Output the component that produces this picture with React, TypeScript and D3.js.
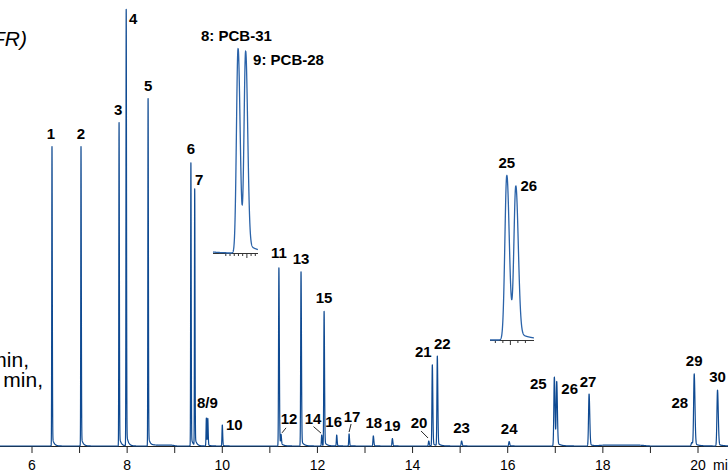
import React from "react";
import * as d3 from "d3";

// peak table (time in min, height in % of peak 4, sigma in min)
const peakIds = ["1", "2", "3", "4", "5", "6", "7", "8", "9", "10", "11", "12", "13", "14", "15", "16", "17", "18", "19", "20", "21", "22", "23", "24", "25", "26", "27", "28", "29", "30"];
const peakTimes = [6.42, 7.03, 7.83, 7.98, 8.44, 9.34, 9.42, 9.665, 9.695, 10.0, 11.19, 11.235, 11.655, 12.09, 12.14, 12.405, 12.665, 13.175, 13.575, 14.34, 14.415, 14.52, 15.03, 16.03, 16.98, 17.03, 17.71, 19.87, 19.92, 20.41];
const peakHeights = [68.6, 68.6, 74.1, 100, 79.6, 64.9, 58.7, 6.4, 6.2, 4.8, 40.8, 2.1, 39.9, 2.5, 30.8, 2.5, 2.75, 2.3, 1.7, 1.15, 18.6, 20.5, 1.15, 1.0, 15.8, 14.5, 11.9, 0.8, 16.5, 12.8];
const peakSigmas = [0.005, 0.005, 0.005, 0.005, 0.005, 0.005, 0.005, 0.0062, 0.0062, 0.0065, 0.007, 0.007, 0.007, 0.007, 0.007, 0.007, 0.007, 0.008, 0.008, 0.008, 0.008, 0.008, 0.009, 0.009, 0.0105, 0.0105, 0.011, 0.012, 0.012, 0.012];

// slow baseline drift
const driftTimes = [8.75, 18.4];
const driftHeights = [0.2, 0.2];
const driftWidths = [0.25, 0.5];

// axis
const tickMinutes = [6, 7, 8, 9, 10, 11, 12, 13, 14, 15, 16, 17, 18, 19, 20];
const tickLabels = ["6", "", "8", "", "10", "", "12", "", "14", "", "16", "", "18", "", "20"];

const FONT = "'Liberation Sans', Arial, Helvetica, sans-serif";
const BLUE = "#0f4a92";
const INSET_BLUE = "#2b63a9";

function signal(t: number) {
  var v = 0;
  for (var i = 0; i < peakTimes.length; i++) {
    var d = t - peakTimes[i];
    var s = peakSigmas[i];
    if (Math.abs(d) > 40 * s) continue;
    var sd = d < 0 ? s : s * 1.3;
    v += peakHeights[i] * Math.exp((-d * d) / (2 * sd * sd));
    if (d > 0) v += peakHeights[i] * 0.035 * (1 - Math.exp(-d / s)) * Math.exp(-d / (7 * s));
  }
  for (var j = 0; j < driftTimes.length; j++) {
    var e = (t - driftTimes[j]) / driftWidths[j];
    v += driftHeights[j] * Math.exp(-Math.pow(e, 8));
  }
  return v;
}

class Chromatogram extends React.Component {
  ref: any;
  constructor(props: any) {
    super(props);
    this.ref = React.createRef();
    this.createChart = this.createChart.bind(this);
  }

  componentDidMount() {
    this.createChart();
  }

  createChart() {
    var width = 728,
      height = 472;

    var svg = d3.select(this.ref.current);
    svg.selectAll("*").remove();
    svg.attr("width", width).attr("height", height);

    var x = d3.scaleLinear().domain([6, 20]).range([32, 698]);
    var y = d3.scaleLinear().domain([0, 100]).range([446, 10]);

    // main trace
    var ts = d3.range(x.invert(-2), x.invert(width + 2), 0.001);
    peakTimes.forEach(function (t) {
      ts.push(t);
    });
    ts.sort(function (a, b) {
      return a - b;
    });
    var pts: [number, number][] = ts.map(function (t) {
      return [t, signal(t)];
    });

    // axis
    var axis = svg.append("g");
    axis
      .append("line")
      .attr("x1", 0)
      .attr("x2", width)
      .attr("y1", y(0) + 0.5)
      .attr("y2", y(0) + 0.5)
      .attr("stroke", "#222")
      .attr("stroke-width", 1.2);
    axis
      .selectAll("line.tick")
      .data(tickMinutes)
      .enter()
      .append("line")
      .attr("class", "tick")
      .attr("x1", function (d) {
        return x(d);
      })
      .attr("x2", function (d) {
        return x(d);
      })
      .attr("y1", y(0))
      .attr("y2", y(0) + 7)
      .attr("stroke", "#222")
      .attr("stroke-width", 1);
    axis
      .selectAll("text")
      .data(tickMinutes)
      .enter()
      .append("text")
      .attr("x", function (d) {
        return x(d);
      })
      .attr("y", 470)
      .attr("text-anchor", "middle")
      .style("font-family", FONT)
      .style("font-size", "14px")
      .text(function (d, i) {
        return tickLabels[i];
      });
    axis
      .append("text")
      .attr("x", 713)
      .attr("y", 470)
      .style("font-family", FONT)
      .style("font-size", "14px")
      .text("min");

    var line = d3
      .line<[number, number]>()
      .x(function (d) {
        return x(d[0]);
      })
      .y(function (d) {
        return y(d[1]);
      });

    svg
      .append("path")
      .attr("d", line(pts))
      .attr("fill", "none")
      .attr("stroke", BLUE)
      .attr("stroke-width", 1.2)
      .attr("stroke-linejoin", "round");

    // peak labels: offset from apex, optional leader line
    var labelLayout: any = {
      "1": [-1, -8], "2": [0, -8], "3": [-1, -8], "4": [7, 14], "5": [0, -8],
      "6": [0, -9], "7": [4.5, -5], "8": [1, -10, "8/9"], "10": [12, 5],
      "11": [0, -10], "12": [8, -13, null, [1, -4, 5, -9]], "13": [0, -8],
      "14": [-8.7, -11, null, [-0.7, -2, -8.2, -8.5]], "15": [0, -9], "16": [-3, -8],
      "17": [3, -12, null, [0, -2, 2, -10]], "18": [0.5, -8], "19": [0, -8],
      "20": [-9.7, -13, null, [-0.7, -3, -7.7, -10]], "21": [-9, -8], "22": [5, -8],
      "23": [0, -8], "24": [0, -8], "25": [-16, 12], "26": [13, 11], "27": [-1, -7],
      "28": [-12, -35], "29": [0, -8], "30": [0, -8],
    };

    var labels = svg.append("g");
    peakIds.forEach(function (id, i) {
      var lay = labelLayout[id];
      if (!lay) return;
      var ax = x(peakTimes[i]);
      var ay = y(peakHeights[i]);
      labels
        .append("text")
        .attr("x", ax + lay[0])
        .attr("y", ay + lay[1])
        .attr("text-anchor", "middle")
        .style("font-family", FONT)
        .style("font-size", "15px")
        .style("font-weight", "bold")
        .text(lay[2] || id);
      if (lay[3]) {
        labels
          .append("line")
          .attr("x1", ax + lay[3][0])
          .attr("y1", ay + lay[3][1])
          .attr("x2", ax + lay[3][2])
          .attr("y2", ay + lay[3][3])
          .attr("stroke", "#111")
          .attr("stroke-width", 0.9);
      }
    });

    // zoomed insets
    function drawInset(
      domain: number[],
      range: number[],
      base: number,
      gain: number,
      ticks: number[],
      major: number,
      names: any[]
    ) {
      var ix = d3.scaleLinear().domain(domain).range(range);
      var iy = d3.scaleLinear().domain([0, 1]).range([base, base - gain]);
      var g = svg.append("g");
      g.append("line")
        .attr("x1", range[0])
        .attr("x2", range[1])
        .attr("y1", base + 0.5)
        .attr("y2", base + 0.5)
        .attr("stroke", "#333")
        .attr("stroke-width", 1.2);
      g.selectAll("line.t")
        .data(ticks)
        .enter()
        .append("line")
        .attr("class", "t")
        .attr("x1", function (d) {
          return ix(d);
        })
        .attr("x2", function (d) {
          return ix(d);
        })
        .attr("y1", base)
        .attr("y2", function (d) {
          return Math.abs(d - major) < 1e-6 ? base + 5 : base + 3;
        })
        .attr("stroke", "#333")
        .attr("stroke-width", 1);
      var its: [number, number][] = d3.range(domain[0], domain[1], 0.0004).map(function (t) {
        return [t, signal(t)];
      });
      g.append("path")
        .attr(
          "d",
          d3
            .line<[number, number]>()
            .x(function (d) {
              return ix(d[0]);
            })
            .y(function (d) {
              return iy(d[1]);
            })(its)
        )
        .attr("fill", "none")
        .attr("stroke", INSET_BLUE)
        .attr("stroke-width", 1.3);
      names.forEach(function (n) {
        var i = peakIds.indexOf(n[0]);
        g.append("text")
          .attr("x", ix(peakTimes[i]) + n[2])
          .attr("y", iy(peakHeights[i]) + n[3])
          .attr("text-anchor", n[4])
          .style("font-family", FONT)
          .style("font-size", "15px")
          .style("font-weight", "bold")
          .text(n[1]);
      });
    }

    drawInset(
      [9.566, 9.744],
      [213, 258],
      253,
      31.9,
      d3.range(-5, 3).map(function (k) {
        return 9.7 + k / 60;
      }),
      9.7,
      [
        ["8", "8: PCB-31", -37, -8, "start"],
        ["9", "9: PCB-28", 7.5, 10, "start"],
      ]
    );
    drawInset(
      [16.887, 17.131],
      [490, 534],
      340,
      10.4,
      d3.range(-2, 3).map(function (k) {
        return 17 + (k * 2.5) / 60;
      }),
      17,
      [
        ["25", "25", 0, -8, "middle"],
        ["26", "26", 13, 2, "middle"],
      ]
    );

    // cropped annotation text at the left edge
    var note = svg.append("g").style("font-family", FONT).style("font-size", "21px");
    note.append("text").attr("x", 27).attr("y", 46).attr("text-anchor", "end").style("font-style", "italic").text("FR)");
    note.append("text").attr("x", 29).attr("y", 367).attr("text-anchor", "end").text("min,");
    note.append("text").attr("x", 43).attr("y", 387).attr("text-anchor", "end").text("min,");
  }

  render() {
    return (
      <svg
        ref={this.ref}
        style={{ position: "absolute", left: 0, top: 0, display: "block", background: "#fff" }}
      ></svg>
    );
  }
}

export default function App() {
  return <Chromatogram />;
}
